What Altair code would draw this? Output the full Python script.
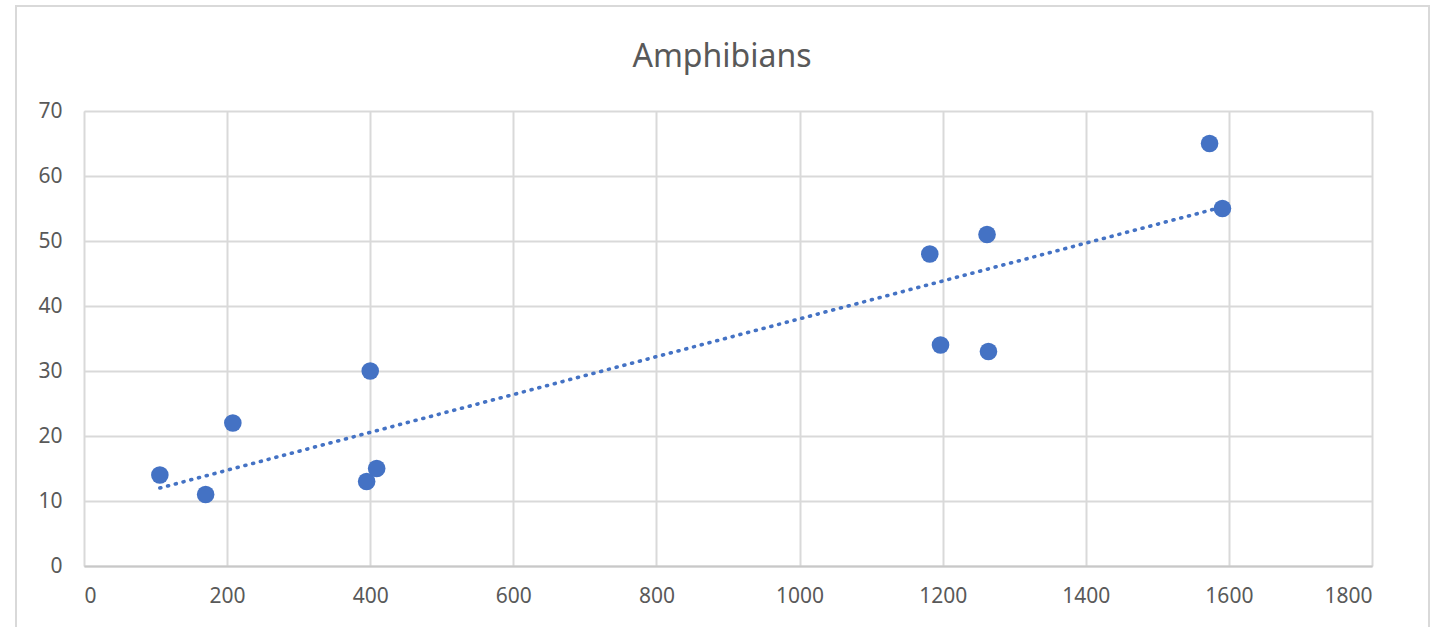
import altair as alt
import pandas as pd

# Data
x_vals = [106, 170, 208, 400, 395, 409, 1182, 1197, 1262, 1264, 1573, 1591]
y_vals = [14, 11, 22, 30, 13, 15, 48, 34, 51, 33, 65, 55]
x_ticks = [0, 200, 400, 600, 800, 1000, 1200, 1400, 1600, 1800]
y_ticks = [0, 10, 20, 30, 40, 50, 60, 70]
title_text = "Amphibians"

df = pd.DataFrame({"x": x_vals, "y": y_vals})

FONT = "Noto Sans"
TXT = "#595959"
GRID = "#d9d9d9"
BLUE = "#4472C4"

xs = alt.Scale(domain=[0, 1800], nice=False, zero=False)
ys = alt.Scale(domain=[0, 70], nice=False)

base = alt.Chart(df)

frame = alt.Chart(pd.DataFrame({"k": [0]})).mark_rect(
    fill=None, stroke=GRID, strokeWidth=2
).encode(
    x=alt.value(-68), x2=alt.value(1345), y=alt.value(-105), y2=alt.value(540)
)

title = alt.Chart(pd.DataFrame({"t": [title_text]})).mark_text(
    font=FONT, fontSize=32, color=TXT, align="center", baseline="alphabetic"
).encode(text="t:N", x=alt.value(638), y=alt.value(-44))

points = base.mark_circle(size=310, color=BLUE, opacity=1).encode(
    x=alt.X("x:Q", scale=xs, axis=alt.Axis(
        values=x_ticks, format="d", title=None, grid=True, gridColor=GRID, gridWidth=2,
        domain=True, domainColor="#c8c8c8", domainWidth=2, ticks=False,
        labelFont=FONT, labelFontSize=21, labelColor=TXT, labelPadding=19,
    )),
    y=alt.Y("y:Q", scale=ys, axis=alt.Axis(
        values=y_ticks, format="d", title=None, grid=True, gridColor=GRID, gridWidth=2,
        domain=False, ticks=False,
        labelFont=FONT, labelFontSize=21, labelColor=TXT, labelPadding=22,
    )),
)

trend = base.transform_regression("x", "y").mark_line(
    color=BLUE, strokeWidth=3.6, strokeDash=[1, 7], strokeCap="round"
).encode(x=alt.X("x:Q", scale=xs), y=alt.Y("y:Q", scale=ys))

chart = alt.layer(frame, title, trend, points).properties(
    width=1288,
    height=455,
    autosize=alt.AutoSizeParams(type="none"),
    padding={"left": 84, "top": 111, "right": 68, "bottom": 61},
).configure_view(stroke=None).configure(background="white")

chart.save("out.html", embed_options={"renderer": "svg", "actions": False})
